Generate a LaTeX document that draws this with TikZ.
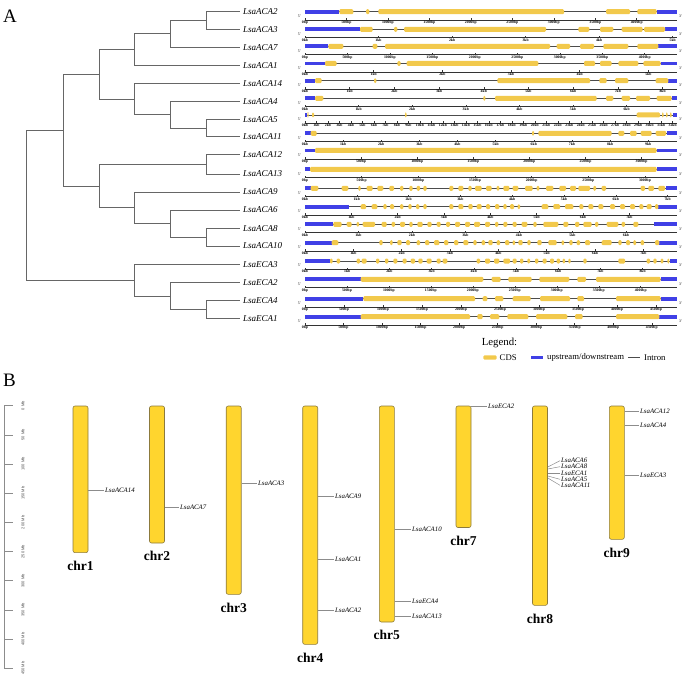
\documentclass[tikz,border=0pt]{standalone}
\usepackage{fontspec}
\setmainfont{Liberation Serif}
\newfontfamily\mbsans{Liberation Sans}
\usepackage{tikz}
\usetikzlibrary{positioning}

\definecolor{cdsyellow}{HTML}{F2C94C}
\definecolor{utrblue}{HTML}{4040E6}
\definecolor{chryellow}{HTML}{FFD52E}
\definecolor{chredge}{HTML}{8C7A3C}

% one gene row: y, 5'UTR end, exons, 3'UTR start, tick gap, ticks, step, unit
\newcommand\generow[8]{%
  \draw[intron] (45,#1) -- (1160,#1);
  \fill[utr] (45,#1-1.9) rectangle (#2,#1+1.9);
  \fill[utr] (#4,#1-1.9) rectangle (1160,#1+1.9);
  \foreach \a/\b in {#3}
    \fill[cds] (\a,#1-2.5) rectangle (\b,#1+2.5);
  \draw[rule] (45,#1+8.3) -- (1160,#1+8.3);
  \node[prime] at (28,#1+4.6) {5'};
  \node[prime] at (1172,#1+4.6) {3'};
  \foreach \k in {0,...,#6}{
    \pgfmathtruncatemacro\tv{\k*#7}
    \draw[rule] (45+\k*#5,#1+8.3) -- ++(0,-1.8);
    \node[ticklab] at (45+\k*#5,#1+9) {{\tv}#8};
  }%
}

\begin{document}
\begin{tikzpicture}[
    x=1pt, y=-1pt,
    tree/.style={draw=black!60, line width=0.8pt},
    leaf/.style={anchor=west, inner sep=3pt, font=\fontsize{9}{10}\selectfont\itshape},
    panel/.style={font=\fontsize{19}{20}\selectfont},
    intron/.style={draw=black!70, line width=0.7pt},
    utr/.style={fill=utrblue},
    cds/.style={fill=cdsyellow, rounded corners=1.2pt},
    rule/.style={draw=black!80, line width=0.5pt},
    prime/.style={inner sep=0pt, font=\fontsize{3.8}{4}\selectfont},
    ticklab/.style={anchor=north, inner sep=0pt, font=\fontsize{3.8}{4}\selectfont\bfseries},
    legtext/.style={anchor=west, inner sep=1pt, font=\fontsize{8.7}{10}\selectfont},
    chrom/.style={draw=chredge, fill=chryellow, line width=0.6pt, rounded corners=2pt,
      minimum width=15pt, inner sep=0pt},
    chrname/.style={inner sep=1pt, font=\fontsize{13.5}{14}\selectfont\bfseries},
    chrgene/.style={anchor=west, inner sep=1pt, font=\fontsize{6.8}{7}\selectfont\itshape},
    mk/.style={draw=black!45, line width=0.5pt},
    mbaxis/.style={draw=black!45, line width=0.7pt},
    mblab/.style={rotate=90, inner sep=0pt, text=black!70, font=\mbsans\fontsize{4}{5}\selectfont}
  ]
  \useasboundingbox (0,0) rectangle (685,679);

  % ---- A: tree
  \node[panel] (pA) at (10,16) {A};
  \foreach \n/\y in {ACA2/11.7,ACA3/29.3,ACA7/47.3,ACA1/65.3,ACA14/83.3,ACA4/101.3,
      ACA5/119.3,ACA11/136.7,ACA12/154.7,ACA13/174,ACA9/192,ACA6/210,ACA8/228.3,
      ACA10/246,ECA3/264.3,ECA2/282.7,ECA4/300.7,ECA1/318.7}
    \node[leaf] (\n) at (240,\y) {Lsa\n};
  \coordinate (a1) at (206.7,20.5);
  \coordinate (a2) at (170.7,33.9);
  \coordinate (a3) at (134.7,49.6);
  \coordinate (b1) at (206.7,128);
  \coordinate (b2) at (170.7,114.65);
  \coordinate (b3) at (134.7,99);
  \coordinate (c1) at (99,74.3);
  \coordinate (d1) at (206.7,164.35);
  \coordinate (e1) at (206.7,237.15);
  \coordinate (e2) at (170.7,223.6);
  \coordinate (e3) at (134.7,207.8);
  \coordinate (c2) at (99,186.1);
  \coordinate (f1) at (63.3,130.2);
  \coordinate (g1) at (206.7,309.7);
  \coordinate (g2) at (170.7,296.2);
  \coordinate (g3) at (134.7,280.25);
  \coordinate (root) at (26.7,205.2);
  \foreach \p/\c in {a1/ACA2,a1/ACA3,a2/a1,a2/ACA7,a3/a2,a3/ACA1,
      b1/ACA5,b1/ACA11,b2/ACA4,b2/b1,b3/ACA14,b3/b2,c1/a3,c1/b3,
      d1/ACA12,d1/ACA13,e1/ACA8,e1/ACA10,e2/ACA6,e2/e1,e3/ACA9,e3/e2,
      c2/d1,c2/e3,f1/c1,f1/c2,g1/ECA4,g1/ECA1,g2/ECA2,g2/g1,g3/ECA3,g3/g2,
      root/f1,root/g3}
    \draw[tree] (\p) |- (\c);

  % ---- A: gene structures
  \begin{scope}[shift={(290,0)}, xscale=1/3]
    \generow{11.7}{148}{148/190,228/238,265/822,948/1020,1042/1100}{1100}{124.4}{8}{500}{bp}
    \generow{29.3}{210}{210/248,312/322,342/768,865/898,930/970,995/1058,1062/1125}{1125}{220.6}{5}{1}{kb}
    \generow{46.3}{115}{115/160,248/262,285/780,800/840,870/912,940/1015,1042/1105}{1105}{127.4}{8}{500}{bp}
    \generow{63.5}{105}{105/140,322/332,350/745,882/915,930/965,985/1045,1060/1112}{1112}{206}{5}{1}{kb}
    \generow{80.7}{75}{75/95,252/259,622/900,928/950,975/1015,1097/1135}{1135}{134.1}{8}{1}{kb}
    \generow{98.3}{75}{75/100,580/586,615/920,948/970,995/1020,1038/1080,1100/1145}{1145}{160.8}{6}{1}{kb}
    \generow{115}{52}{52/56,66/72,345/350,1040/1110,1116/1121,1128/1133,1140/1145}{1150}{34.47}{32}{1}{kb}
    \generow{133.3}{62}{62/80,726/732,745/965,985/1003,1020/1040,1052/1085,1097/1128}{1130}{114.4}{9}{1}{kb}
    \generow{150.5}{75}{75/1100}{1100}{168.3}{6}{500}{bp}
    \generow{169.3}{60}{60/1100}{1100}{170}{6}{500}{bp}
    \generow{188.3}{62}{62/85,155/175,205/212,230/248,262/280,298/312,330/340,358/368,
      380/390,400/410,478/490,505/520,535/545,555/575,588/605,620/628,640/658,668/685,
      705/728,740/748,768/790,808/828,840/858,865/900,910/918,935/948,1052/1065,
      1075/1092,1105/1125}{1128}{155.4}{7}{1}{kb}
    \generow{206.7}{178}{212/228,245/262,280/290,300/312,330/340,355/365,378/388,400/410,
      478/490,505/520,535/548,560/575,588/600,615/628,640/650,660/672,683/690,755/775,
      790/810,825/850,868/880,895/910,925/940,960/975,990/1005,1020/1035,1048/1060,
      1070/1085,1095/1105}{1105}{139}{7}{1}{kb}
    \generow{224.3}{130}{130/155,170/185,200/207,218/255,275/290,305/315,330/345,358/368,
      382/398,412/425,440/452,468/480,495/510,525/540,552/570,585/600,615/625,640/652,
      668/680,695/712,730/740,760/805,820/835,855/868,880/905,915/925,950/985,995/1005,
      1030/1045}{1092}{160.5}{6}{1}{kb}
    \generow{242.7}{125}{125/145,268/278,300/308,322/335,348/360,380/390,405/418,432/448,
      462/475,492/505,520/535,550/560,575/585,595/608,620/630,645/658,668/675,685/698,
      712/722,742/755,775/800,815/822,838/848,860/870,885/900,935/965,985/995,1008/1020,
      1030/1038,1052/1062,1095/1108}{1108}{145}{7}{1}{kb}
    \generow{261}{120}{120/128,140/150,200/210,215/230,258/268,285/295,310/322,338/350,
      362/375,385/398,410/425,440/452,458/472,560/570,585/600,612/628,640/660,668/680,
      690/700,712/720,735/745,758/770,780/792,800/810,818/825,835/842,880/890,985/1005,
      1070/1080,1090/1100,1112/1120,1132/1138}{1140}{126.6}{8}{1}{kb}
    \generow{279.3}{212}{212/580,605/632,655/725,748/838,862/888,918/1112}{1112}{125.9}{8}{500}{bp}
    \generow{298.7}{220}{220/555,578/592,615/640,668/722,750/840,862/882,978/1112}{1112}{117}{9}{500}{bp}
    \generow{316.7}{212}{212/540,562/578,600/628,652/715,738/832,855/878,978/1108}{1108}{115.6}{9}{500}{bp}
  \end{scope}

  % ---- A: legend
  \node[font=\fontsize{10.8}{12}\selectfont] (leg) at (499.5,343) {Legend:};
  \fill[cds] (483.3,355.3) rectangle (496.7,359.7);
  \node[legtext] (lcds) at (498.5,357.5) {CDS};
  \fill[utr] (530.7,355.8) rectangle (543.3,359.2);
  \node[legtext] (lutr) at (546,357.5) {upstream/downstream};
  \draw[intron] (628,357.5) -- (640,357.5);
  \node[legtext] (lint) at (643,357.5) {Intron};

  % ---- B: scale
  \node[panel] (pB) at (9.5,380) {B};
  \draw[mbaxis] (4,405.7) -- (4,668.3);
  \foreach \k in {0,...,9}{
    \pgfmathtruncatemacro\mb{\k*50}
    \draw[mbaxis] (4,405.7+\k*29.18) -- ++(9,0);
    \node[mblab] at (23,405.7+\k*29.18) {\mb{} Mb};
  }

  % ---- B: chromosomes
  \foreach \c/\x/\h in {1/80.5/146.6,2/157/137,3/233.7/188.3,4/310.2/238.3,
      5/386.8/216,7/463.5/121.5,8/540/199.3,9/616.8/133.3}{
    \node[chrom, minimum height=\h pt, anchor=north] (chr\c) at (\x,405.7) {};
    \node[chrname, below=7pt of chr\c] (n\c) {chr\c};
  }
  \foreach \c/\g/\y/\x in {1/ACA14/490/104,2/ACA7/507.3/179,3/ACA3/483.3/257,
      4/ACA9/496.7/334,4/ACA1/559.3/334,4/ACA2/610/334,
      5/ACA10/529/411,5/ECA4/601.7/411,5/ACA13/616.7/411,7/ECA2/406/487,
      9/ACA12/411/639,9/ACA4/425.7/639,9/ECA3/475.7/639}{
    \node[chrgene] (b\g) at (\x,\y) {Lsa\g};
    \draw[mk] (chr\c.east |- b\g) -- (b\g.west);
  }
  \foreach \g/\y/\s in {ACA6/460.7/467,ACA8/466.7/469,ECA1/473.3/473.3,
      ACA5/479.3/476,ACA11/485.3/478}{
    \node[chrgene] (b\g) at (560,\y) {Lsa\g};
    \draw[mk] (chr8.east |- 0,\s) -- (b\g.west);
  }
\end{tikzpicture}
\end{document}
